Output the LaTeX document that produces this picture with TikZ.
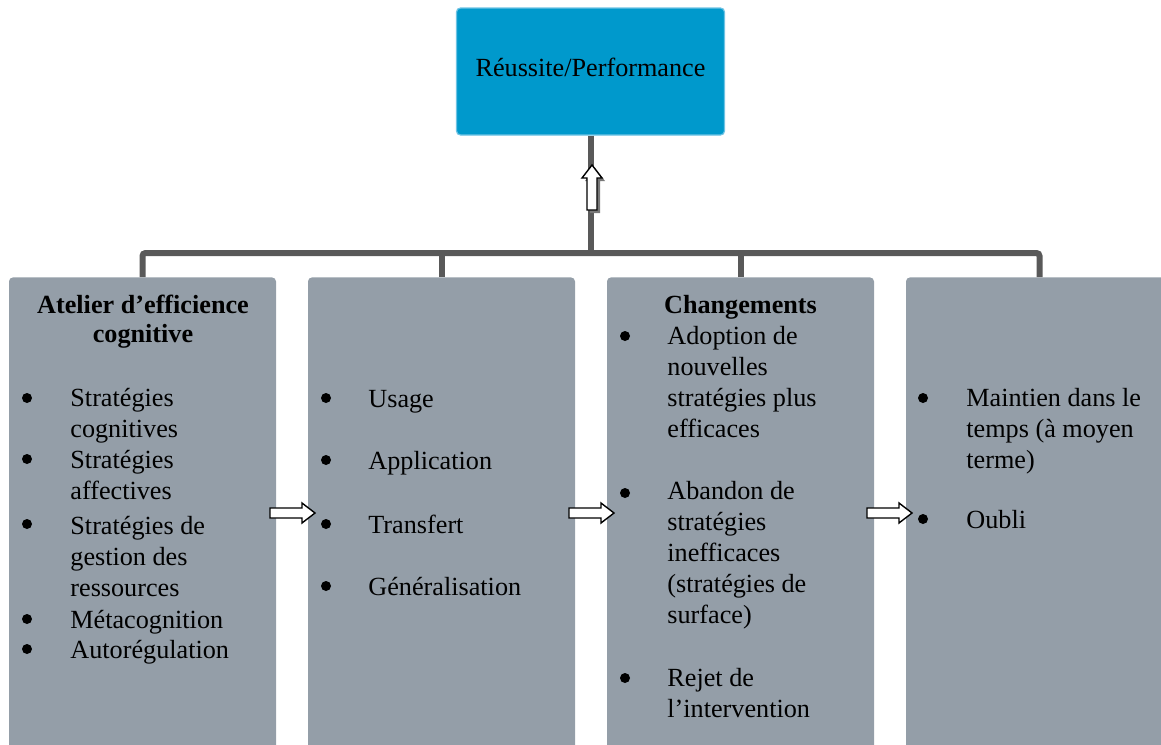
\documentclass[tikz,border=0pt]{standalone}
\usepackage{fontspec}
\setmainfont{Liberation Serif}

\definecolor{perfblue}{RGB}{0,153,204}
\definecolor{perfedge}{RGB}{110,195,228}
\definecolor{boxgray}{RGB}{148,158,168}
\definecolor{linkgray}{RGB}{89,89,89}
\definecolor{shadegray}{RGB}{120,120,120}

\tikzset{
  topbox/.style={rectangle,rounded corners=2pt,fill=perfblue,draw=perfedge,line width=0.6pt,
    minimum width=134pt,minimum height=63.5pt,text height=9pt,text depth=4.5pt},
  stagebox/.style={rectangle,rounded corners=2pt,fill=boxgray,inner sep=0pt,
    minimum width=133.5pt,minimum height=260pt,anchor=north},
  link/.style={draw=linkgray,line width=3pt,rounded corners=1.5pt},
  heading/.style={font=\fontsize{13.1pt}{14.5pt}\selectfont\bfseries,align=center,anchor=base,inner sep=0pt},
  % multi-line nodes sit on the baseline of their last line
  entry/.style={align=left,anchor=base west,inner sep=0pt},
  blockarrow/.style={draw=black,fill=white,line width=0.7pt,line join=miter},
}

\begin{document}
\begin{tikzpicture}[x=0.5pt,y=-0.5pt,font=\fontsize{13.1pt}{15.4pt}\selectfont]
  \useasboundingbox (0,0) rectangle (1161,744);
  \clip (0,0) rectangle (1161,744);

  % the four stages
  \node[stagebox] (atelier) at (142.5,277) {};
  \node[stagebox] (usage) at (441.5,277) {};
  \node[stagebox] (changements) at (740.5,277) {};
  \node[stagebox] (maintien) at (1039.5,277) {};

  % result on top
  \node[topbox] (perf) at (590.5,71.5) {Réussite/Performance};

  % links
  \coordinate (bus) at (591,253);
  \draw[link] (perf.south) -- (perf.south |- bus);
  \draw[link] (atelier.north) |- (bus) -| (maintien.north);
  \draw[link] (usage.north) -- (usage.north |- bus);
  \draw[link] (changements.north) -- (changements.north |- bus);

  % block arrows
  \fill[shadegray] (590,213) -- (590,181) -- (585,181) -- (595,168) -- (605,181) -- (600,181) -- (600,213) -- cycle;
  \draw[blockarrow] (587,210) -- (587,178) -- (582,178) -- (592,165) -- (602,178) -- (597,178) -- (597,210) -- cycle;
  \draw[blockarrow] (270,508) -- ++(32,0) -- ++(0,-5) -- ++(13,10) -- ++(-13,10) -- ++(0,-5) -- ++(-32,0) -- cycle;
  \draw[blockarrow] (569,508) -- ++(32,0) -- ++(0,-5) -- ++(13,10) -- ++(-13,10) -- ++(0,-5) -- ++(-32,0) -- cycle;
  \draw[blockarrow] (867,508) -- ++(32,0) -- ++(0,-5) -- ++(13,10) -- ++(-13,10) -- ++(0,-5) -- ++(-32,0) -- cycle;

  % first stage
  \node[heading] (atelier-t) at (143,342) {Atelier d’efficience\\cognitive};
  \node[entry] (a1) at (70,437) {Stratégies\\cognitives};
  \node[entry] (a2) at (70,499) {Stratégies\\affectives};
  \node[entry] (a3) at (70,596) {Stratégies de\\gestion des\\ressources};
  \node[entry] (a4) at (70,628) {Métacognition};
  \node[entry] (a5) at (70,658) {Autorégulation};
  \fill (27,398) circle[radius=2.5pt] (27,459) circle[radius=2.5pt] (27,524) circle[radius=2.5pt]
        (27,619) circle[radius=2.5pt] (27,649) circle[radius=2.5pt];

  % second stage
  \node[entry] (u1) at (368,407) {Usage};
  \node[entry] (u2) at (368,469) {Application};
  \node[entry] (u3) at (368,533) {Transfert};
  \node[entry] (u4) at (368,595) {Généralisation};
  \fill (326,398) circle[radius=2.5pt] (326,460) circle[radius=2.5pt] (326,524) circle[radius=2.5pt]
        (326,586) circle[radius=2.5pt];

  % third stage
  \node[heading] (changements-t) at (740.5,313) {Changements};
  \node[entry] (c1) at (667,437) {Adoption de\\nouvelles\\stratégies plus\\efficaces};
  \node[entry] (c2) at (667,623) {Abandon de\\stratégies\\inefficaces\\(stratégies de\\surface)};
  \node[entry] (c3) at (667,717) {Rejet de\\l’intervention};
  \fill (625,336) circle[radius=2.5pt] (625,493) circle[radius=2.5pt] (625,678) circle[radius=2.5pt];

  % fourth stage
  \node[entry] (m1) at (966,468) {Maintien dans le\\temps (à moyen\\terme)};
  \node[entry] (m2) at (966,528) {Oubli};
  \fill (923,398) circle[radius=2.5pt] (923,519) circle[radius=2.5pt];
\end{tikzpicture}
\end{document}
